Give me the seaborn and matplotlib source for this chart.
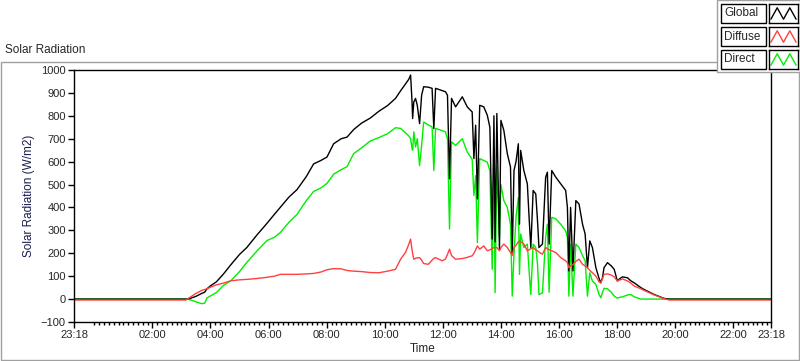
import matplotlib
matplotlib.use("Agg")
import matplotlib.pyplot as plt
from matplotlib.patches import Rectangle
import numpy as np
import pandas as pd
import seaborn as sns

# time in hours since midnight (23:18 of the day before = -0.7)
hours = [-0.7, 3.15, 3.30, 3.50, 3.70, 3.80, 3.88, 4.00, 4.20, 4.45, 4.70, 5.00,
         5.25, 5.60, 5.94, 6.20, 6.40, 6.70, 6.98, 7.30, 7.55, 7.80, 8.01, 8.24,
         8.50, 8.70, 8.93, 9.20, 9.50, 9.80, 10.10, 10.37, 10.55, 10.72, 10.83, 10.89,
         10.94, 10.96, 11.00, 11.06, 11.12, 11.20, 11.27, 11.34, 11.50, 11.63, 11.69, 11.75,
         11.98, 12.09, 12.16, 12.23, 12.30, 12.44, 12.67, 12.84, 13.01, 13.07, 13.13, 13.19,
         13.27, 13.41, 13.53, 13.62, 13.70, 13.76, 13.80, 13.86, 13.95, 14.00, 14.10, 14.22,
         14.33, 14.39, 14.45, 14.52, 14.60, 14.64, 14.68, 14.79, 14.91, 14.97, 15.03, 15.11,
         15.20, 15.26, 15.31, 15.43, 15.54, 15.60, 15.66, 15.75, 15.89, 16.06, 16.23, 16.29,
         16.34, 16.40, 16.48, 16.58, 16.69, 16.81, 16.90, 16.98, 17.06, 17.15, 17.27, 17.38,
         17.44, 17.50, 17.55, 17.67, 17.80, 17.90, 18.01, 18.10, 18.19, 18.36, 18.47, 18.59,
         18.82, 18.93, 19.28, 19.62, 19.80, 23.30]

global_rad = [0, 0, 3, 12, 25, 30, 45, 58, 75, 110, 150, 195,
              225, 280, 330, 370, 400, 445, 478, 535, 590, 605, 620, 678,
              700, 707, 740, 768, 790, 820, 845, 876, 910, 940, 960, 978,
              861, 788, 860, 876, 846, 766, 890, 927, 925, 920, 744, 920,
              910, 905, 890, 525, 876, 839, 883, 839, 817, 613, 759, 437,
              846, 839, 803, 750, 262, 800, 250, 810, 215, 780, 737, 635,
              576, 196, 561, 600, 678, 327, 649, 561, 503, 357, 225, 474,
              459, 342, 225, 240, 532, 554, 240, 561, 532, 503, 474, 400,
              123, 400, 123, 430, 415, 327, 284, 137, 254, 225, 137, 90,
              71, 95, 137, 159, 145, 130, 79, 90, 97, 93, 80, 71,
              50, 42, 20, 3, 0, 0]

diffuse_rad = [-4, -4, 8, 25, 38, 42, 45, 52, 62, 70, 80, 84,
               86, 90, 95, 100, 108, 108, 108, 110, 112, 118, 128, 133,
               132, 125, 122, 120, 116, 115, 122, 130, 175, 205, 240, 262,
               215, 200, 174, 178, 180, 181, 170, 155, 152, 170, 178, 181,
               167, 175, 195, 218, 190, 174, 177, 182, 189, 200, 215, 232,
               218, 232, 211, 215, 220, 225, 225, 225, 211, 225, 240, 225,
               203, 190, 225, 235, 250, 254, 250, 240, 211, 215, 220, 225,
               215, 211, 205, 196, 225, 220, 215, 211, 203, 181, 167, 160,
               137, 145, 150, 165, 174, 152, 145, 137, 125, 115, 100, 75,
               71, 90, 108, 110, 105, 97, 79, 84, 88, 79, 70, 57,
               45, 38, 18, 2, -4, -4]

direct_rad = [0, 0, -3, -12, -20, -18, 5, 14, 28, 60, 80, 120,
              160, 210, 255, 270, 290, 335, 370, 430, 470, 485, 505, 545,
              565, 578, 635, 660, 690, 705, 722, 748, 745, 725, 712, 700,
              656, 650, 730, 664, 700, 583, 671, 773, 760, 752, 561, 745,
              735, 730, 700, 306, 686, 671, 700, 642, 610, 452, 539, 247,
              613, 605, 598, 560, 130, 590, 28, 576, 269, 500, 430, 400,
              327, 13, 196, 357, 444, 108, 284, 225, 240, 123, 20, 240,
              225, 152, 20, 27, 269, 327, 30, 357, 350, 327, 298, 269,
              13, 240, 13, 240, 225, 190, 167, 13, 115, 79, 64, 20,
              6, 30, 47, 45, 30, 13, 4, 8, 10, 18, 20, 10,
              0, 0, 0, 0, 0, 0]

series_names = ["Global", "Diffuse", "Direct"]
series_colors = ["#000000", "#ff4040", "#00ee00"]
draw_order = ["Direct", "Global", "Diffuse"]
tick_hours = [-0.7, 2, 4, 6, 8, 10, 12, 14, 16, 18, 20, 22, 23.3]
tick_labels = ["23:18", "02:00", "04:00", "06:00", "08:00", "10:00", "12:00",
               "14:00", "16:00", "18:00", "20:00", "22:00", "23:18"]
y_ticks = list(range(-100, 1001, 100))

sns.set_style("white")
plt.rcParams["font.family"] = ["Liberation Sans", "DejaVu Sans"]
plt.rcParams["font.size"] = 8

df = pd.DataFrame({"Time": hours, "Global": global_rad,
                   "Diffuse": diffuse_rad, "Direct": direct_rad})
long_df = df.melt(id_vars="Time", var_name="Series", value_name="Radiation")

W, H = 800, 361


def fx(x):
    return x / W


def fy(y):
    return 1 - y / H


fig = plt.figure(figsize=(8, 3.61), dpi=100)

# outer panel frame
fig.add_artist(Rectangle((fx(1), fy(360)), fx(798), 298 / H, transform=fig.transFigure,
                         facecolor="none", edgecolor="#a0a0a0", lw=1))
fig.text(fx(5), fy(50), "Solar Radiation", ha="left", va="center", fontsize=8.5)

ax = fig.add_axes([fx(74), fy(322), fx(697), 252 / H])
sns.lineplot(data=long_df, x="Time", y="Radiation", hue="Series",
             hue_order=draw_order, palette=dict(zip(series_names, series_colors)),
             estimator=None, sort=False, legend=False, linewidth=1, ax=ax)

ax.set_xlim(-0.7, 23.3)
ax.set_ylim(-100, 1000)
ax.set_xticks(tick_hours)
ax.set_xticklabels(tick_labels)
ax.set_xticks(np.arange(0, 23.3, 1 / 6), minor=True)
ax.set_yticks(y_ticks)
ax.tick_params(axis="both", which="major", direction="out", length=4, width=1,
               color="black", labelsize=8, bottom=True, left=True, pad=2)
ax.tick_params(axis="x", which="minor", direction="out", length=2.5, width=1,
               color="black", bottom=True)
for side in ax.spines.values():
    side.set_color("black")
    side.set_linewidth(1)
ax.set_xlabel("Time", fontsize=8.5, labelpad=2)
ax.set_ylabel("Solar Radiation (W/m2)", fontsize=8.5, color="#1a1a50", labelpad=4)

# legend panel in the top right corner
fig.add_artist(Rectangle((fx(717), fy(72)), fx(83), 72 / H, transform=fig.transFigure,
                         facecolor="white", edgecolor="#a0a0a0", lw=1, zorder=5))
row_tops = [4, 27, 50]
for name, color, top in zip(series_names, series_colors, row_tops):
    fig.add_artist(Rectangle((fx(721), fy(top + 19)), fx(45), 19 / H,
                             transform=fig.transFigure, facecolor="white",
                             edgecolor="black", lw=1, zorder=6))
    fig.text(fx(724), fy(top + 9.5), name, ha="left", va="center", fontsize=8.5, zorder=7)
    sample = fig.add_axes([fx(769), fy(top + 19), fx(29), 19 / H], zorder=8)
    sample.plot([0, 1, 2, 3, 4], [0.2, 0.8, 0.2, 0.8, 0.2], color=color, lw=1)
    sample.set_xlim(-0.3, 4.3)
    sample.set_ylim(0, 1)
    sample.set_xticks([])
    sample.set_yticks([])
    for side in sample.spines.values():
        side.set_color("black")
        side.set_linewidth(1)

fig.savefig("out.png", dpi=100)
